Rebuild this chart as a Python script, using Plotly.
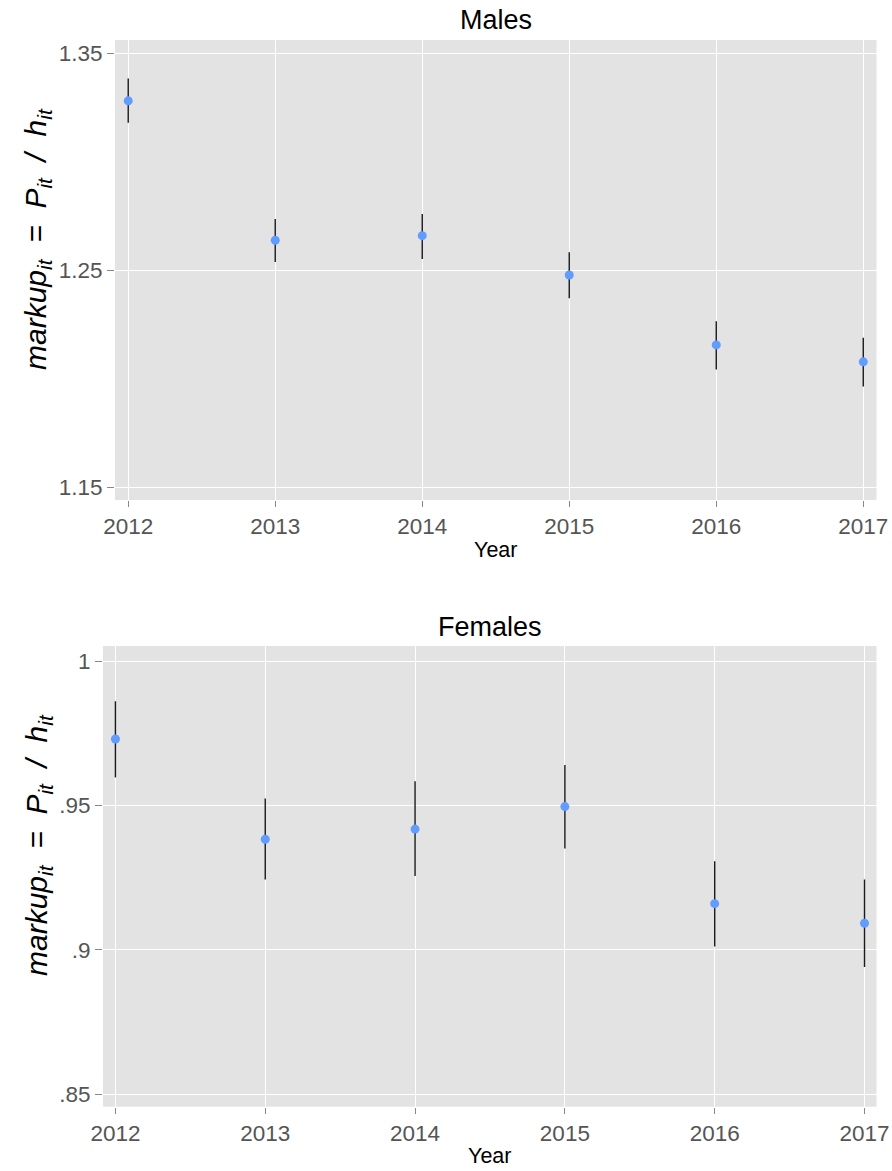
import plotly.graph_objects as go

# Survey years
years = [2012, 2013, 2014, 2015, 2016, 2017]

# Males: point estimates and 95% interval bounds
males_mean = [1.3281, 1.2639, 1.2660, 1.2479, 1.2157, 1.2079]
males_upper = [1.3384, 1.2737, 1.2760, 1.2584, 1.2266, 1.2190]
males_lower = [1.3180, 1.2539, 1.2553, 1.2372, 1.2044, 1.1966]

# Females: point estimates and 95% interval bounds
females_mean = [0.9730, 0.9383, 0.9418, 0.9496, 0.9160, 0.9092]
females_upper = [0.9861, 0.9524, 0.9584, 0.9640, 0.9307, 0.9244]
females_lower = [0.9597, 0.9244, 0.9256, 0.9351, 0.9012, 0.8941]

# Tick labels
males_ticks = [1.15, 1.25, 1.35]
males_ticktext = ["1.15", "1.25", "1.35"]
females_ticks = [0.85, 0.9, 0.95, 1.0]
females_ticktext = [".85", ".9", ".95", "1"]

W, H = 892, 1171
FONT = "Liberation Sans, Arial, Helvetica, sans-serif"
PANEL_BG = "#E3E3E3"
POINT = "#619CFF"
TICK_GREY = "#555555"


def panel_trace(means, lower, upper, xa, ya):
    plus = [u - m for u, m in zip(upper, means)]
    minus = [m - l for m, l in zip(means, lower)]
    return go.Scatter(
        x=years, y=means, mode="markers",
        marker=dict(color=POINT, size=9),
        error_y=dict(type="data", symmetric=False, array=plus, arrayminus=minus,
                     width=0, thickness=1.4, color="#1a1a1a"),
        xaxis=xa, yaxis=ya, showlegend=False, hoverinfo="x+y",
    )


fig = go.Figure()
fig.add_trace(panel_trace(males_mean, males_lower, males_upper, "x", "y"))
fig.add_trace(panel_trace(females_mean, females_lower, females_upper, "x2", "y2"))

common_x = dict(
    tickmode="array", tickvals=years, ticktext=[str(y) for y in years],
    showgrid=True, gridcolor="white", gridwidth=1.2, zeroline=False,
    ticks="outside", ticklen=6, tickwidth=1, tickcolor="#888888",
    tickfont=dict(family=FONT, size=22.5, color=TICK_GREY),
    showline=False, automargin=False,
    title=dict(text="Year", font=dict(family=FONT, size=21.5, color="black"), standoff=3),
)
common_y = dict(
    showgrid=True, gridcolor="white", gridwidth=1.2, zeroline=False,
    ticks="outside", ticklen=7, tickwidth=1, tickcolor="#888888",
    tickfont=dict(family=FONT, size=22.5, color=TICK_GREY),
    showline=False, automargin=False,
)

fig.update_layout(
    width=W, height=H,
    margin=dict(l=0, r=0, t=0, b=0, autoexpand=False),
    paper_bgcolor="white", plot_bgcolor=PANEL_BG,
    font=dict(family=FONT),
    xaxis=dict(common_x, domain=[115 / W, 876.5 / W], range=[2011.91, 2017.09], anchor="y"),
    yaxis=dict(common_y, domain=[1 - 500 / H, 1 - 40 / H], range=[1.1443, 1.3561],
               tickvals=males_ticks, ticktext=males_ticktext, anchor="x"),
    xaxis2=dict(common_x, domain=[103 / W, 876.5 / W], range=[2011.917, 2017.08], anchor="y2"),
    yaxis2=dict(common_y, domain=[1 - 1106.7 / H, 1 - 646 / H], range=[0.8457, 1.0052],
                tickvals=females_ticks, ticktext=females_ticktext, anchor="x2"),
)

gap = "\u00a0" * 2
ylabel = (f"<i>markup<sub>it</sub>{gap}={gap}P<sub>it</sub>"
          f"{gap}/{gap}h<sub>it</sub></i>")

annotations = [
    dict(text="Males", x=(115 + 876.5) / 2 / W, y=1 - 20 / H),
    dict(text="Females", x=(103 + 876.5) / 2 / W, y=1 - 627 / H),
]
for a in annotations:
    a.update(xref="paper", yref="paper", showarrow=False, xanchor="center",
             yanchor="middle", font=dict(family=FONT, size=27, color="black"))

for yc in (239, 845):
    annotations.append(dict(
        text=ylabel, x=38 / W, y=1 - yc / H, xref="paper", yref="paper",
        showarrow=False, textangle=-90, xanchor="center", yanchor="middle",
        font=dict(family=FONT, size=30, color="black"),
    ))

fig.update_layout(annotations=annotations)

fig.write_html("out.html")
